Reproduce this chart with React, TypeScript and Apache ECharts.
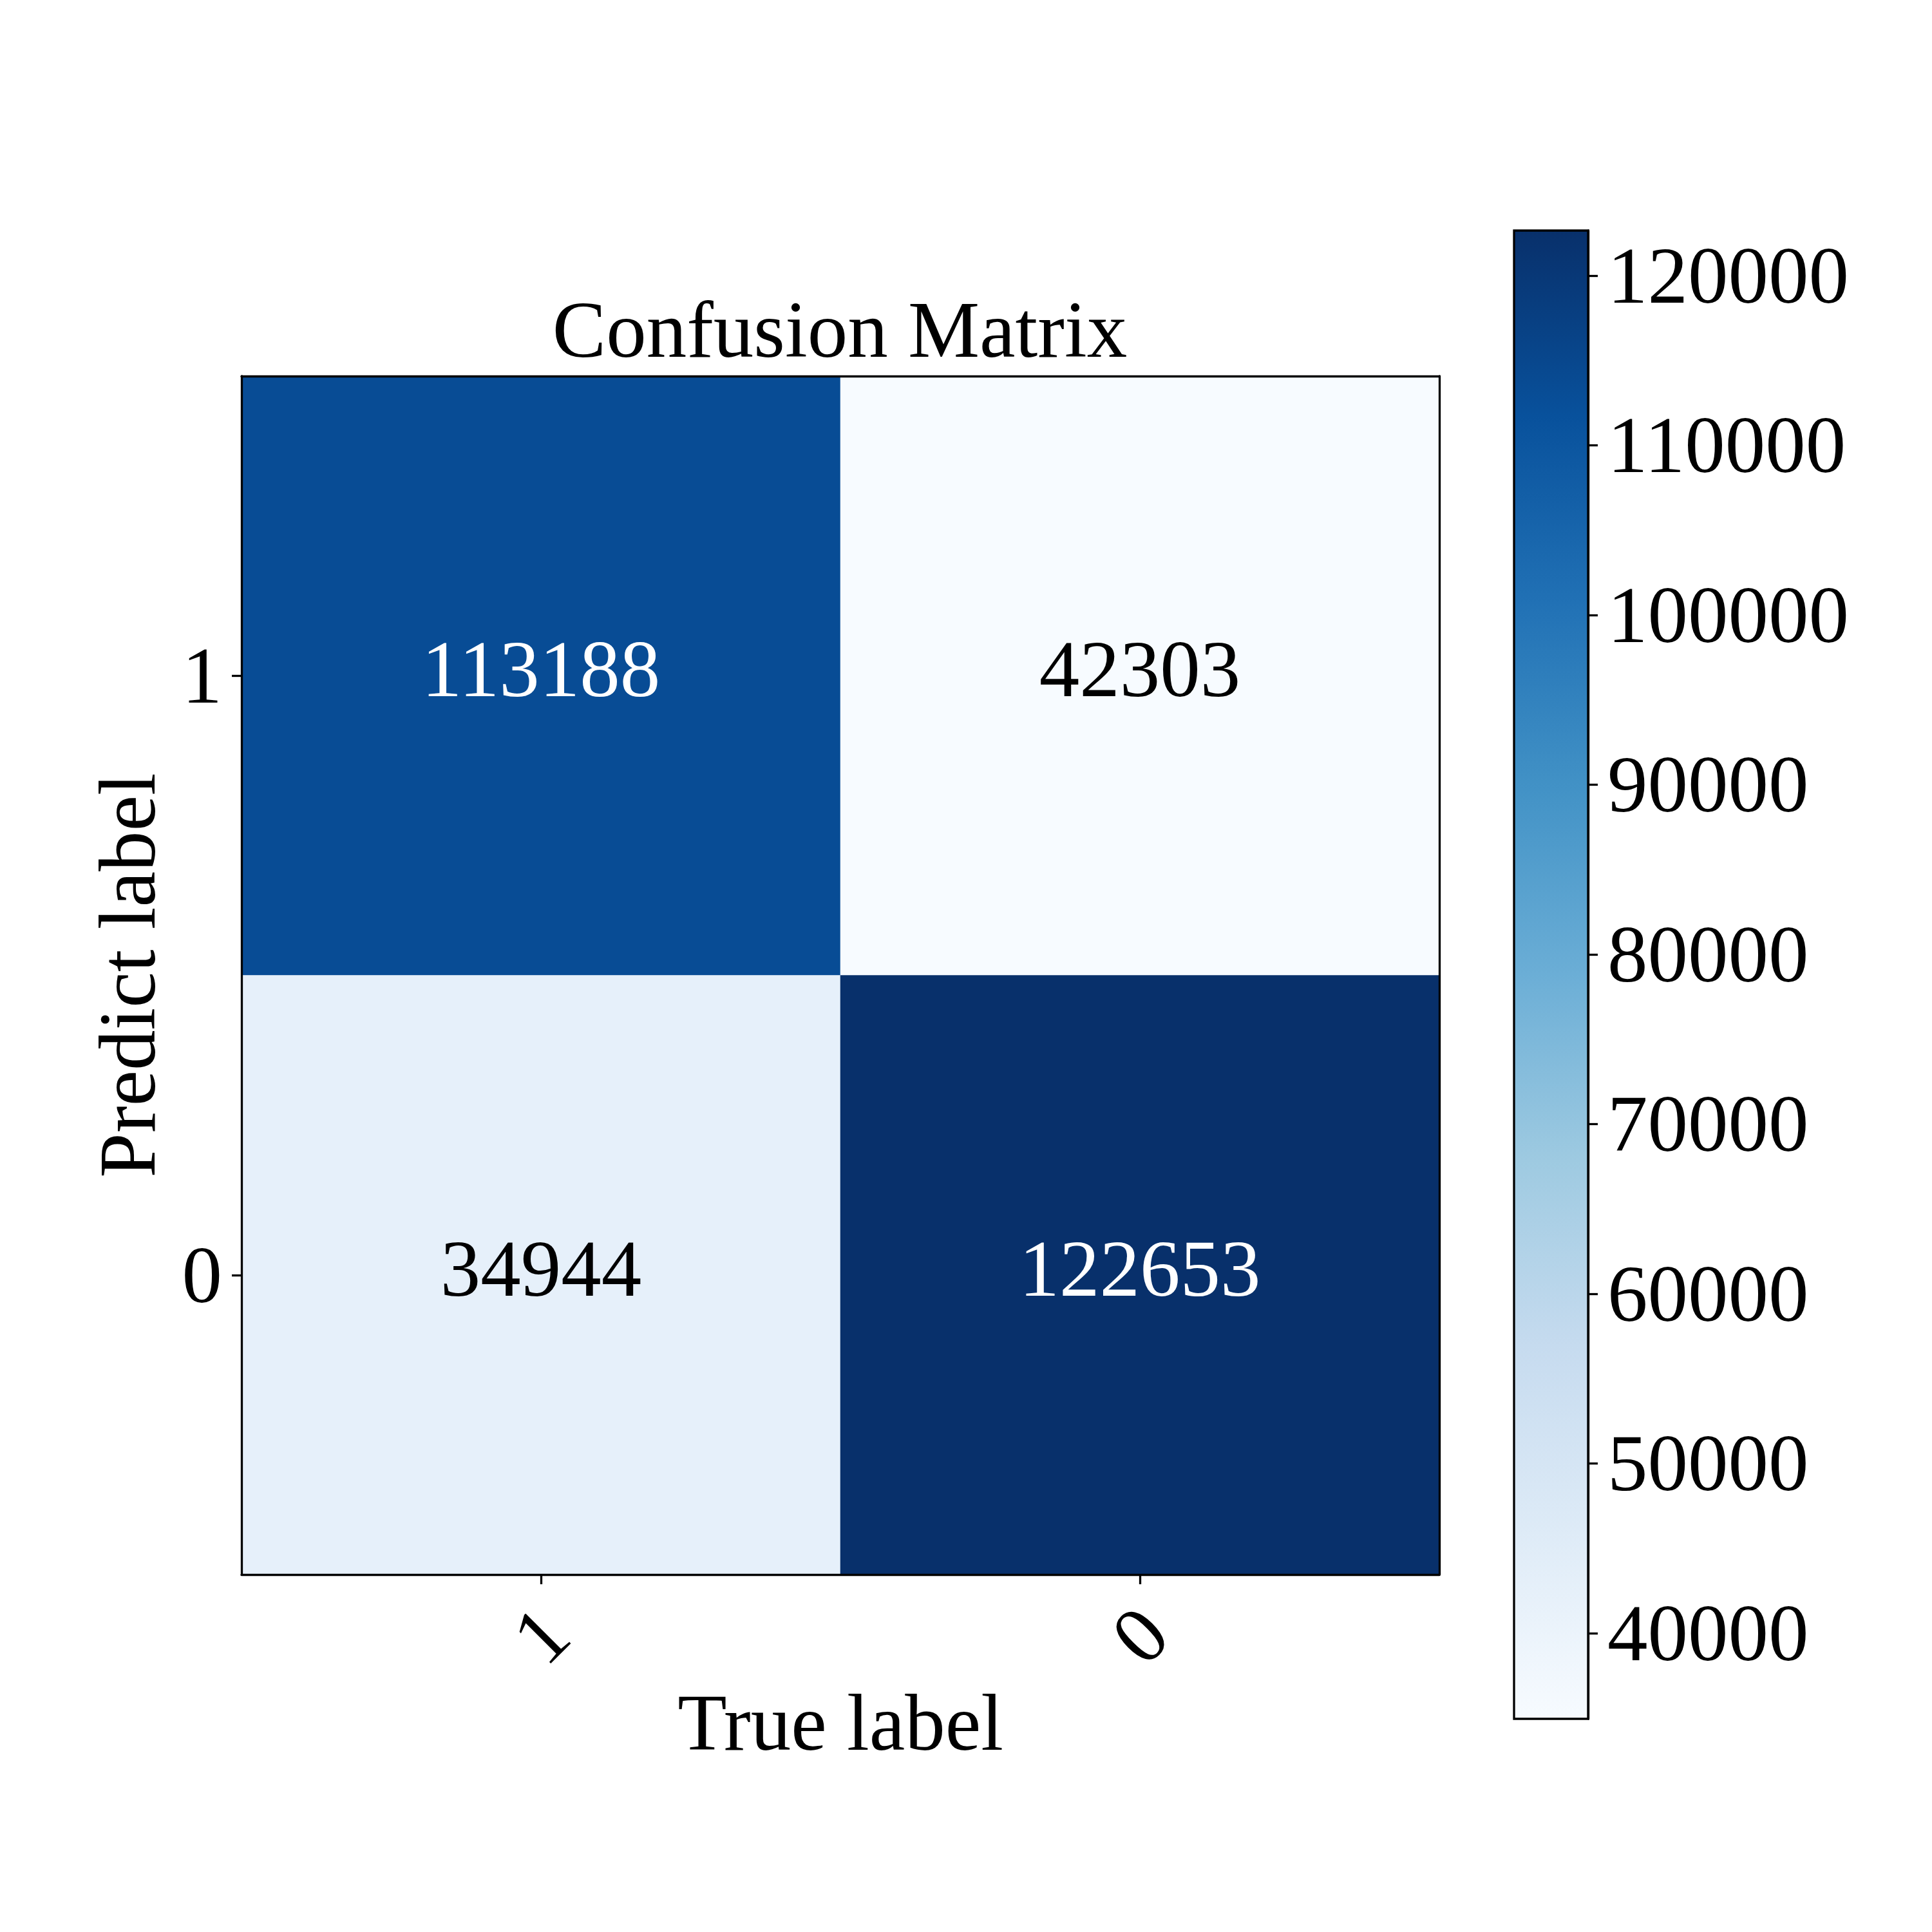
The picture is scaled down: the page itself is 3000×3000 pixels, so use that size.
import React, { useEffect, useRef } from "react";
import * as echarts from "echarts";

// ---- data ----
const trueLabels = ["1", "0"]; // columns, left -> right
const predictLabels = ["1", "0"]; // rows, top -> bottom
// counts written in each cell [row = predict][col = true]
const cellCounts = [
  [113188, 42303],
  [34944, 122653],
];
const colorbarTicks = [40000, 50000, 60000, 70000, 80000, 90000, 100000, 110000, 120000];
const bluesColors = [
  "#f7fbff", "#deebf7", "#c6dbef", "#9ecae1", "#6baed6",
  "#4292c6", "#2171b5", "#08519c", "#08306b",
];

const FONT = "Liberation Serif";
const FS = 125;
const LW = 3.3;

export default function App() {
  const ref = useRef<HTMLDivElement>(null);
  useEffect(() => {
    if (!ref.current) return;
    const chart = echarts.init(ref.current, null, { renderer: "svg" });
    const all = cellCounts.flat();
    const vmin = Math.min(...all);
    const vmax = Math.max(...all);
    const thresh = vmax / 2;

    // image colours follow the (transposed) matrix, as in the reference
    const heatData: any[] = [];
    for (let i = 0; i < predictLabels.length; i++) {
      for (let j = 0; j < trueLabels.length; j++) {
        const colorVal = cellCounts[j][i];
        const textVal = cellCounts[i][j];
        heatData.push({
          value: [j, i, colorVal, textVal],
          label: { color: textVal > thresh ? "#ffffff" : "#000000" },
        });
      }
    }

    const stops = bluesColors.map((c, k) => ({ offset: k / (bluesColors.length - 1), color: c }));

    const textBase = { fontFamily: FONT, fontSize: FS, color: "#000" };

    chart.setOption({
      animation: false,
      backgroundColor: "#ffffff",
      title: {
        text: "Confusion Matrix",
        left: 1299,
        top: 444,
        textAlign: "center",
        textStyle: { ...textBase, fontWeight: "normal" },
      },
      grid: [
        { left: 375, top: 584, width: 1860, height: 1861 },
        { left: 2351, top: 358, width: 115, height: 2311 },
      ],
      xAxis: [
        {
          gridIndex: 0,
          type: "category",
          data: trueLabels,
          position: "bottom",
          z: 10,
          name: "True label",
          nameLocation: "middle",
          nameGap: 129,
          nameTextStyle: textBase,
          axisLine: { show: true, lineStyle: { color: "#000", width: LW } },
          axisTick: { show: true, alignWithLabel: true, length: 15, lineStyle: { color: "#000", width: LW } },
          axisLabel: {
            ...textBase,
            rotate: 45,
            align: "center",
            verticalAlign: "middle",
            margin: 94,
          },
          splitLine: { show: false },
        },
        {
          gridIndex: 0,
          type: "category",
          data: trueLabels,
          position: "top",
          z: 10,
          axisLine: { show: true, lineStyle: { color: "#000", width: LW } },
          axisTick: { show: false },
          axisLabel: { show: false },
          splitLine: { show: false },
        },
        {
          gridIndex: 1,
          type: "value",
          min: 0,
          max: 1,
          show: false,
        },
      ],
      yAxis: [
        {
          gridIndex: 0,
          type: "category",
          data: predictLabels,
          inverse: true,
          position: "left",
          z: 10,
          name: "Predict label",
          nameLocation: "middle",
          nameGap: 115,
          nameRotate: 90,
          nameTextStyle: textBase,
          axisLine: { show: true, lineStyle: { color: "#000", width: LW } },
          axisTick: { show: true, alignWithLabel: true, length: 15, lineStyle: { color: "#000", width: LW } },
          axisLabel: { ...textBase, margin: 30 },
          splitLine: { show: false },
        },
        {
          gridIndex: 0,
          type: "category",
          data: predictLabels,
          inverse: true,
          position: "right",
          z: 10,
          axisLine: { show: true, lineStyle: { color: "#000", width: LW } },
          axisTick: { show: false },
          axisLabel: { show: false },
          splitLine: { show: false },
        },
        {
          gridIndex: 1,
          type: "value",
          min: vmin,
          max: vmax,
          position: "right",
          z: 10,
          axisLine: { show: true, onZero: false, lineStyle: { color: "#000", width: LW } },
          axisTick: {
            show: true,
            length: 15,
            customValues: colorbarTicks,
            lineStyle: { color: "#000", width: LW },
          },
          axisLabel: {
            ...textBase,
            margin: 30,
            customValues: colorbarTicks,
            formatter: (v: number) => String(v),
          },
          splitLine: { show: false },
        },
      ],
      visualMap: {
        type: "continuous",
        show: false,
        min: vmin,
        max: vmax,
        dimension: 2,
        seriesIndex: 0,
        inRange: { color: bluesColors },
      },
      series: [
        {
          type: "heatmap",
          xAxisIndex: 0,
          yAxisIndex: 0,
          data: heatData,
          itemStyle: { borderWidth: 0 },
          label: {
            show: true,
            fontFamily: FONT,
            fontSize: FS,
            offset: [0, -10],
            formatter: (p: any) => String(p.value[3]),
          },
          emphasis: { disabled: true },
        },
        {
          type: "custom",
          xAxisIndex: 2,
          yAxisIndex: 2,
          data: [[0, vmin, 1, vmax]],
          renderItem: (params: any, api: any) => {
            const p0 = api.coord([api.value(0), api.value(1)]);
            const p1 = api.coord([api.value(2), api.value(3)]);
            return {
              type: "rect",
              shape: { x: p0[0], y: p1[1], width: p1[0] - p0[0], height: p0[1] - p1[1] },
              style: {
                fill: new echarts.graphic.LinearGradient(0, 1, 0, 0, stops),
                stroke: "#000",
                lineWidth: LW,
              },
            };
          },
        },
      ],
    });
    return () => chart.dispose();
  }, []);
  return (
    <div
      ref={ref}
      style={{ position: "absolute", left: 0, top: 0, width: 3000, height: 3000 }}
    />
  );
}
